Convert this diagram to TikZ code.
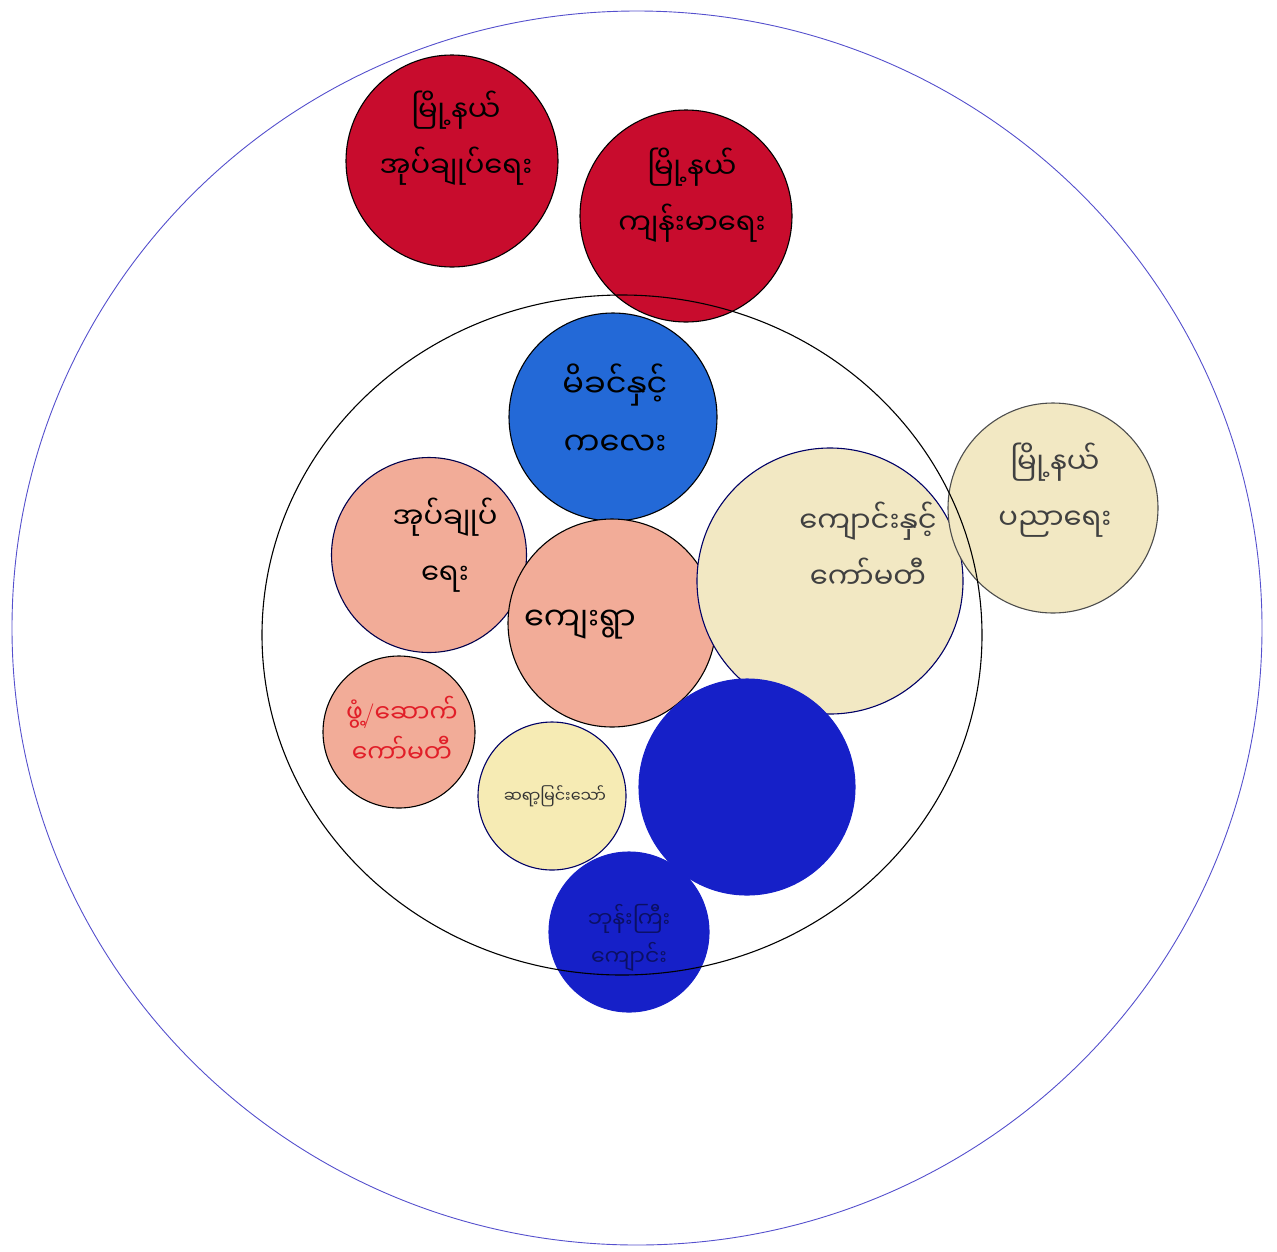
\documentclass[tikz,border=0pt]{standalone}
\usepackage{fontspec}
\newfontfamily\mmfont[Script=Myanmar]{Noto Sans Myanmar UI}
\usetikzlibrary{calc}
\definecolor{ringblue}{RGB}{85,80,205}
\definecolor{deepred}{RGB}{200,12,45}
\definecolor{midblue}{RGB}{35,105,215}
\definecolor{salmon}{RGB}{242,172,152}
\definecolor{cream}{RGB}{242,232,195}
\definecolor{lemon}{RGB}{240,222,130}
\definecolor{navyblue}{RGB}{22,32,200}
\definecolor{inkred}{RGB}{225,30,40}

\begin{document}
\begin{tikzpicture}[x=1pt,y=-1pt,
	disc/.style={circle, draw=black, line width=1.1pt, inner sep=0pt, minimum size=#1},
	txt/.style={font=\mmfont\fontsize{29}{56}\selectfont, align=center}]
	\useasboundingbox (0,0) rectangle (1277,1251);
	\draw[ringblue, line width=0.9pt] (637,628) ellipse [x radius=625, y radius=617];
	\node[disc=212pt, fill=deepred] (A) at (452,161) {};
	\node[disc=212pt, fill=deepred] (B) at (686,216) {};
	\node[disc=208pt, fill=midblue] (C) at (613,417) {};
	\node[disc=195pt, fill=salmon, draw=black!70!blue] (D) at (429,555) {};
	\node[disc=208pt, fill=salmon] (E) at (612,623) {};
	\node[disc=266pt, fill=cream, draw=black!60!blue] (F) at (830,581) {};
	\node[disc=210pt, fill=cream, draw=black!70] (G) at (1053,508) {};
	\node[disc=152pt, fill=salmon] (H) at (399,732) {};
	\node[disc=148pt, fill=lemon!60, draw=black!60!blue] (I) at (552,796) {};
	\node[disc=216pt, fill=navyblue, draw=navyblue] (J) at (747,787) {};
	\node[disc=160pt, fill=navyblue, draw=navyblue] (K) at (629,932) {};
	% inner ring drawn over the discs
	\draw[black, line width=1.1pt] (622,635) ellipse [x radius=360, y radius=340];
	\node[txt] at ($(A)+(4,-23)$) {မြို့နယ်\\အုပ်ချုပ်ရေး};
	\node[txt] at ($(B)+(6,-21)$) {မြို့နယ်\\ကျန်းမာရေး};
	\node[txt, font=\mmfont\fontsize{32}{58}\selectfont] at ($(C)+(2,-7)$) {မိခင်နှင့်\\ကလေး};
	\node[txt] at ($(D)+(16,-10)$) {အုပ်ချုပ်\\ရေး};
	\node[txt, font=\mmfont\fontsize{32}{58}\selectfont] at ($(E)+(-32,2)$) {ကျေးရွာ};
	\node[txt, black!75] at ($(F)+(38,-36)$) {ကျောင်းနှင့်\\ကော်မတီ};
	\node[txt, black!75] at ($(G)+(2,-18)$) {မြို့နယ်\\ပညာရေး};
	\node[txt, inkred, font=\mmfont\fontsize{25}{40}\selectfont] at ($(H)+(3,-3)$) {ဖွံ့{\normalfont/}ဆောက်\\ကော်မတီ};
	\node[txt, black!80, font=\mmfont\fontsize{16}{24}\selectfont] at ($(I)+(3,0)$) {ဆရာ့မြင်းသော်};
	\node[txt, navyblue!50!black, font=\mmfont\fontsize{22}{38}\selectfont] at ($(K)+(0,6)$) {ဘုန်းကြီး\\ကျောင်း};
\end{tikzpicture}
\end{document}
